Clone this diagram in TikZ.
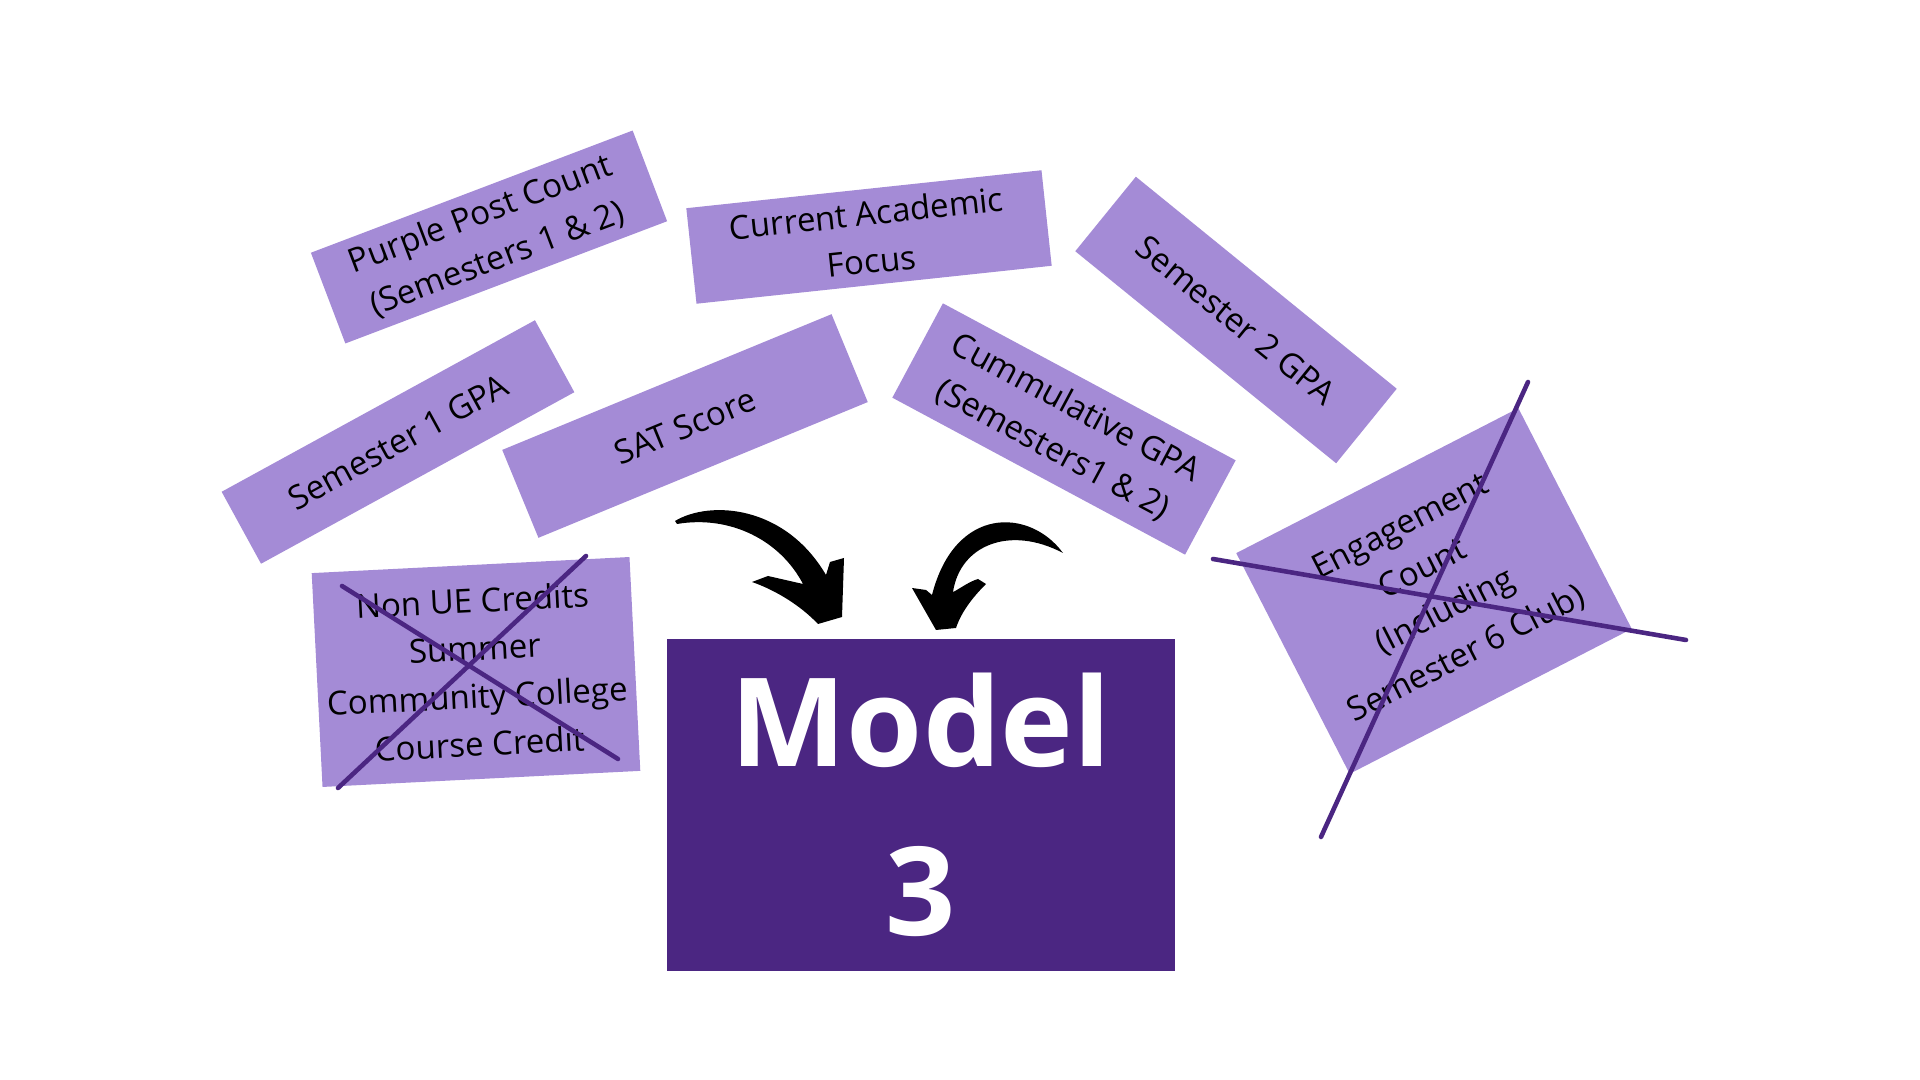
\documentclass[tikz,border=0pt]{standalone}
\usepackage{fontspec}
\setmainfont{Open Sans}
\definecolor{lilac}{RGB}{164,139,214}
\definecolor{grape}{RGB}{75,38,130}

\begin{document}
\begin{tikzpicture}[x=0.01cm,y=-0.01cm]
\tikzstyle{card}=[rectangle,fill=lilac,inner sep=0pt,align=center,text=black,font=\fontsize{9.4}{13.6}\selectfont]
\tikzstyle{cross}=[draw=grape,line width=1.3pt,line cap=round]
\useasboundingbox (0,0) rectangle (1920,1080);

\node[card,minimum width=3.44cm,minimum height=0.97cm,rotate=20.8](post) at (489,237) {Purple Post Count\\(Semesters 1 \& 2)};
\node[card,minimum width=3.57cm,minimum height=0.96cm,rotate=6.1](focus) at (869,237) {Current Academic\\Focus};
\node[card,minimum width=3.36cm,minimum height=0.96cm,rotate=-39.1](semtwo) at (1236,320) {Semester 2 GPA};
\node[card,minimum width=3.57cm,minimum height=0.82cm,rotate=28.7](semone) at (398,442) {Semester 1 GPA};
\node[card,minimum width=3.56cm,minimum height=0.95cm,rotate=22.4](sat) at (685,426) {SAT Score};
\node[card,minimum width=3.32cm,minimum height=1.07cm,rotate=-28.2](cgpa) at (1064,429) {Cummulative GPA\\(Semesters1 \& 2)};
\node[card,minimum width=3.18cm,minimum height=2.14cm,rotate=2.9](nonue) at (476,672) {Non UE Credits\\Summer\\Community College\\Course Credit};
\node[card,minimum width=3.17cm,minimum height=2.48cm,rotate=27.2](engage) at (1434,591) {Engagement\\Count\\(Including\\Semester 6 Club)};

\node[rectangle,fill=grape,inner sep=0pt,minimum width=5.08cm,minimum height=3.31cm,align=center,text=white,font=\bfseries\fontsize{35}{48}\selectfont](model) at (921,805) {Model\\3};

\coordinate (n1) at (342,586);
\coordinate (n2) at (618,759);
\coordinate (n3) at (586,556);
\coordinate (n4) at (338,788);
\draw[cross] (n1) -- (n2);
\draw[cross] (n3) -- (n4);

\coordinate (e1) at (1213,559);
\coordinate (e2) at (1686,640);
\coordinate (e3) at (1528,382);
\coordinate (e4) at (1321,837);
\draw[cross] (e1) -- (e2);
\draw[cross] (e3) -- (e4);

\fill[black] (675,521) .. controls (710,500) and (785,505) .. (826,575) -- (830,562) -- (844,558) -- (842,617) -- (818,624) .. controls (800,605) and (775,590) .. (752,582) -- (768,576) -- (803,584) .. controls (780,540) and (730,515) .. (677,524) -- cycle;
\fill[black] (1063,553) .. controls (1030,508) and (955,505) .. (932,595) -- (926,590) -- (912,588) -- (936,630) -- (956,628) .. controls (962,610) and (975,595) .. (986,584) -- (978,579) .. controls (968,582) and (958,590) .. (953,592) .. controls (960,545) and (1010,525) .. (1063,553) -- cycle;
\end{tikzpicture}
\end{document}
